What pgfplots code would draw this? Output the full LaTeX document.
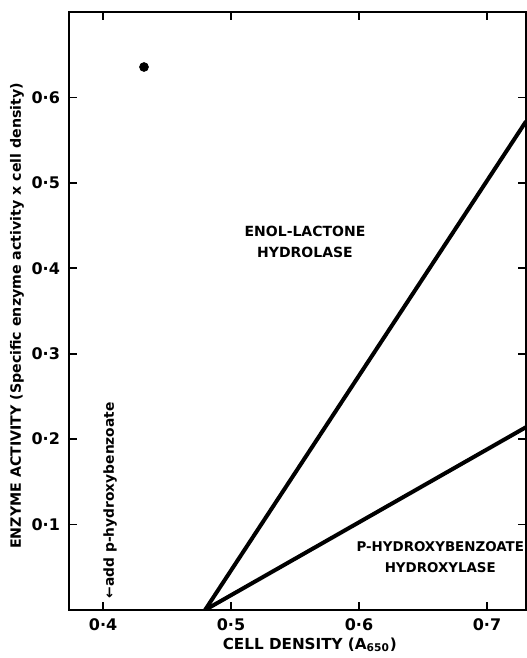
\documentclass[border=0pt]{standalone}
\usepackage{fontspec}
\setmainfont{DejaVu Sans}
\usepackage{pgfplots}
\pgfplotsset{compat=1.18}
\begin{document}
\begin{tikzpicture}[font=\bfseries]
\begin{axis}[
  scale only axis,
  width=228.5pt, height=299pt,
  xmin=0.3734, xmax=0.7305,
  ymin=0, ymax=0.7,
  xtick={0.4,0.5,0.6,0.7},
  xticklabels={0·4,0·5,0·6,0·7},
  ytick={0.1,0.2,0.3,0.4,0.5,0.6},
  yticklabels={0·1,0·2,0·3,0·4,0·5,0·6},
  tick align=inside,
  major tick length=4pt,
  every tick/.style={black, line width=0.9pt},
  axis line style={line width=1pt},
  ticklabel style={font=\bfseries\fontsize{8}{9}\selectfont},
  xticklabel style={yshift=-1pt},
  yticklabel style={xshift=-1pt},
  xlabel={CELL DENSITY (A$_{\mathbf{650}}$)},
  ylabel={ENZYME ACTIVITY (Specific enzyme activity x cell density)},
  every axis x label/.style={at={(axis description cs:0.527,0)}, yshift=-17.5pt, anchor=center, font=\bfseries\fontsize{7.6}{9}\selectfont},
  every axis y label/.style={at={(axis description cs:0,0.492)}, xshift=-26pt, rotate=90, anchor=center, font=\bfseries\fontsize{7.1}{8}\selectfont},
  clip=true,
]
\addplot[black, line width=2pt] coordinates {(0.4797,0) (0.7305,0.572)};
\addplot[black, line width=2pt] coordinates {(0.4797,0) (0.7305,0.214)};
\addplot[only marks, mark=*, mark size=2.2pt, black] coordinates {(0.432,0.6356)};
\node[align=center, font=\bfseries\fontsize{7}{10.5}\selectfont] at (axis cs:0.5578,0.431) {ENOL-LACTONE\\HYDROLASE};
\node[align=center, font=\bfseries\fontsize{6.7}{10.5}\selectfont] at (axis cs:0.6635,0.0622) {P-HYDROXYBENZOATE\\HYDROXYLASE};
\node[rotate=90, anchor=west, inner sep=0pt, font=\bfseries\fontsize{6.9}{8}\selectfont] at (axis cs:0.4055,0.0135) {←add p-hydroxybenzoate};
\end{axis}
\pgfresetboundingbox
\path[use as bounding box] ([xshift=-34.5pt,yshift=-24pt]current axis.south west) rectangle ([yshift=6pt]current axis.north east);
\end{tikzpicture}
\end{document}
